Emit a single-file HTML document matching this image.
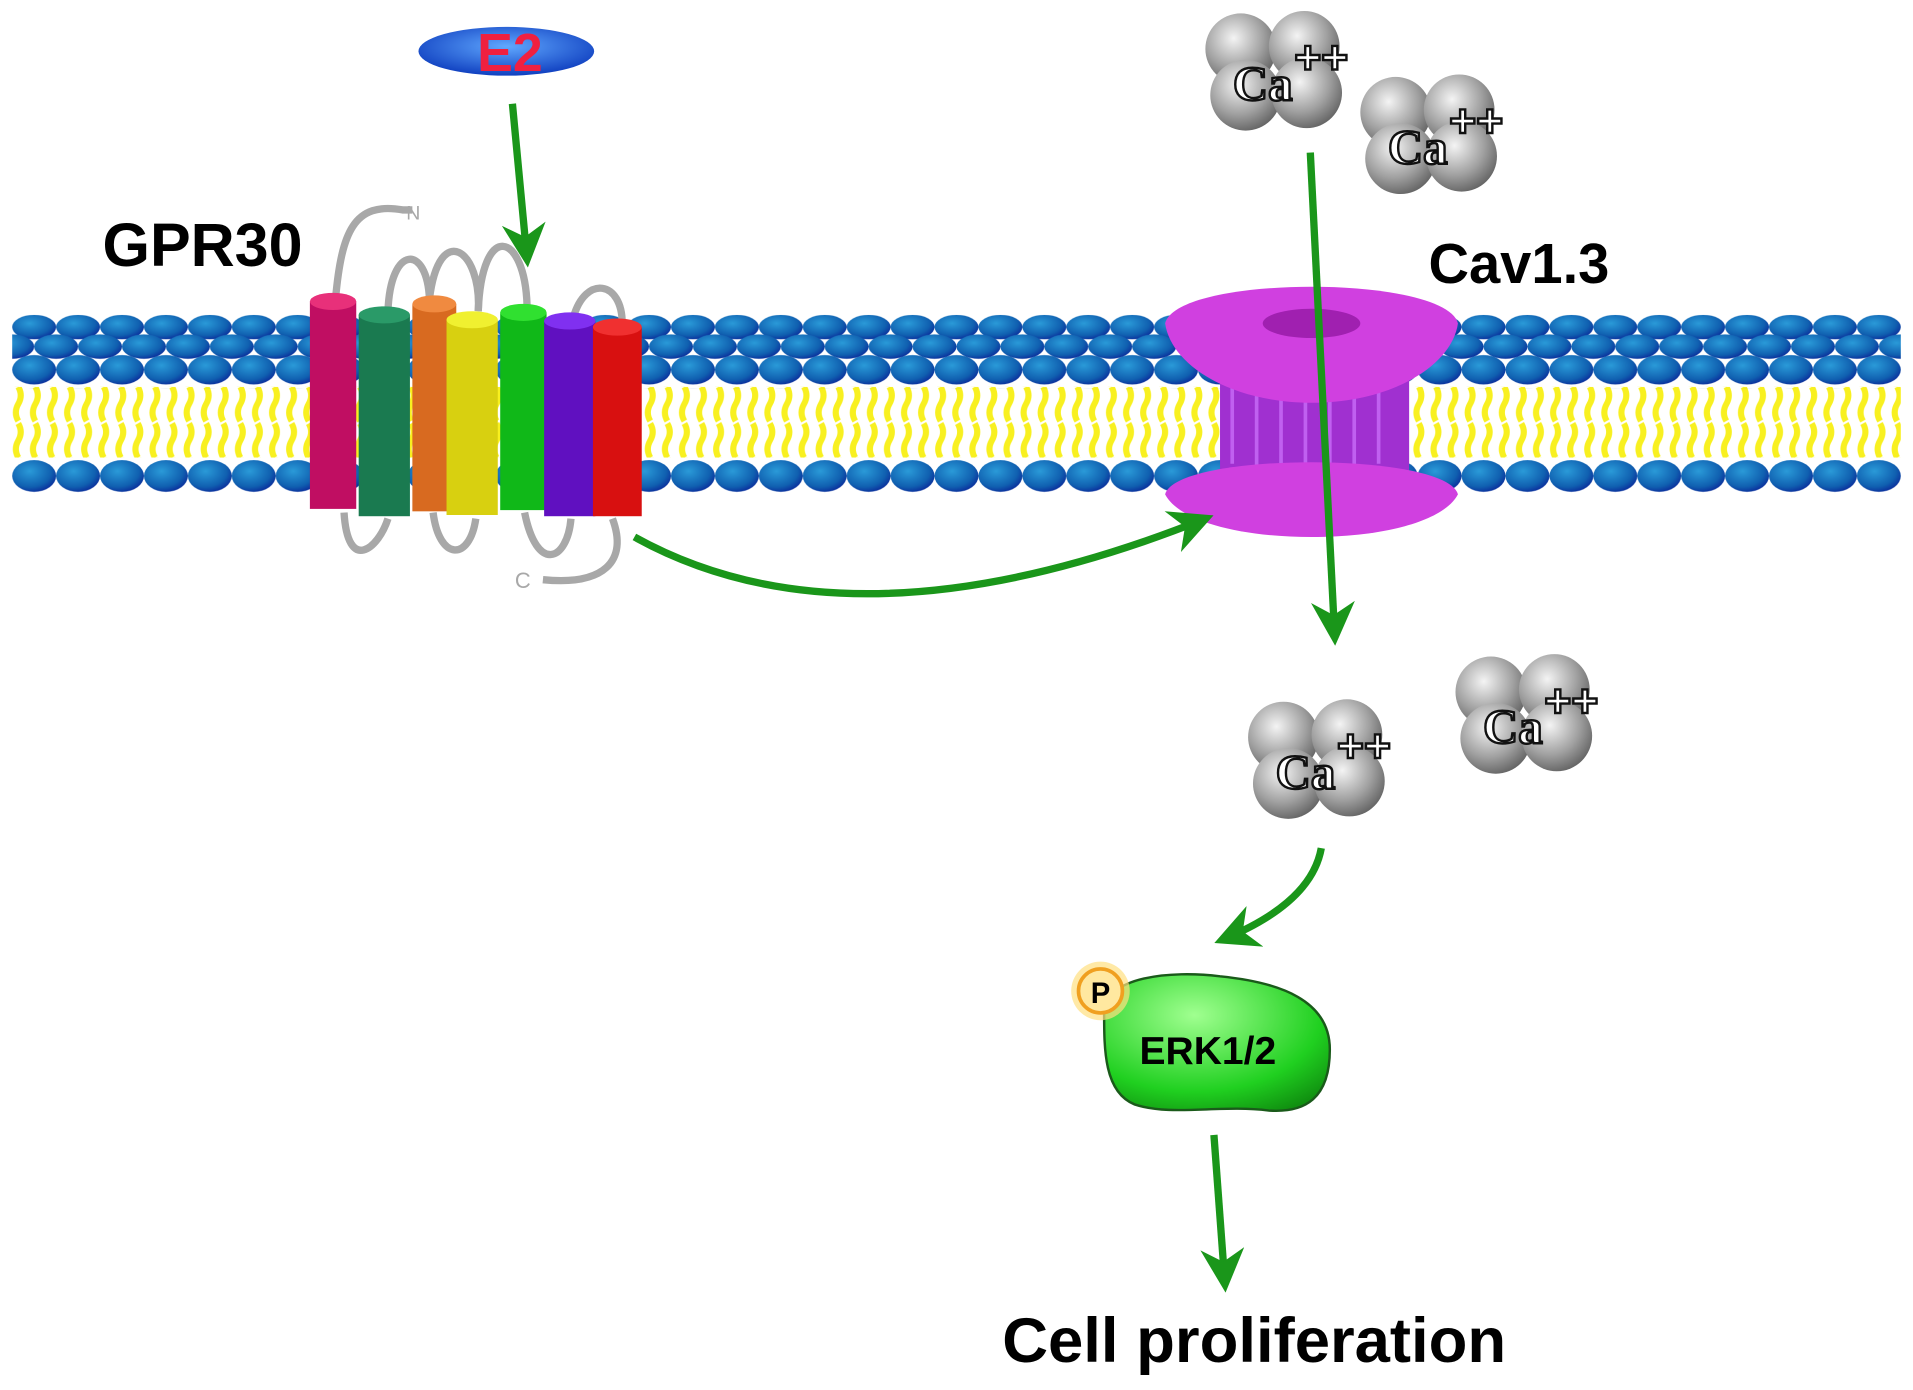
<!DOCTYPE html>
<html><head><style>html,body{margin:0;padding:0;background:#fff}svg{display:block}</style></head>
<body>
<svg width="1913" height="1390" viewBox="0 0 1568 1139" preserveAspectRatio="none" xmlns="http://www.w3.org/2000/svg" font-family="Liberation Sans, Arial, sans-serif">
<defs>
<radialGradient id="hd" cx="0.4" cy="0.35" r="0.7"><stop offset="0" stop-color="#2a9ad8"/><stop offset="0.7" stop-color="#1060b0"/><stop offset="1" stop-color="#0a2a9a"/></radialGradient>
<radialGradient id="gr" cx="0.4" cy="0.35" r="0.7"><stop offset="0" stop-color="#f4f4f4"/><stop offset="0.6" stop-color="#a0a0a0"/><stop offset="1" stop-color="#606060"/></radialGradient>
<radialGradient id="gn" cx="0.4" cy="0.3" r="0.8"><stop offset="0" stop-color="#a0ff90"/><stop offset="0.7" stop-color="#20d020"/><stop offset="1" stop-color="#109010"/></radialGradient>
<radialGradient id="e2" cx="0.5" cy="0.4" r="0.6"><stop offset="0" stop-color="#60a8ff"/><stop offset="1" stop-color="#1040c0"/></radialGradient>
<pattern id="top" x="10" y="258" width="36" height="60" patternUnits="userSpaceOnUse">
<ellipse cx="18" cy="10" rx="18" ry="10" fill="url(#hd)"/><ellipse cx="0" cy="26" rx="18" ry="10" fill="url(#hd)"/><ellipse cx="36" cy="26" rx="18" ry="10" fill="url(#hd)"/><ellipse cx="18" cy="45" rx="18" ry="12" fill="url(#hd)"/>
</pattern>
<pattern id="bot" x="10" y="375" width="36" height="32" patternUnits="userSpaceOnUse">
<ellipse cx="18" cy="15" rx="18" ry="13" fill="url(#hd)"/>
</pattern>
<pattern id="tail" x="10" y="317" width="14" height="58" patternUnits="userSpaceOnUse">
<path d="M5 0 q4 7 0 14 q-4 7 0 14 M5 30 q4 7 0 14 q-4 7 0 14" stroke="#f8f020" stroke-width="5" fill="none"/>
</pattern>
<marker id="ah" viewBox="0 0 10 10" refX="8" refY="5" markerWidth="6" markerHeight="6" orient="auto"><path d="M0 0 L10 5 L0 10 L3 5z" fill="#1a961a"/></marker>
<g id="ca">
<circle cx="-28" cy="-18" r="29" fill="url(#gr)"/><circle cx="24" cy="-20" r="29" fill="url(#gr)"/><circle cx="-24" cy="20" r="29" fill="url(#gr)"/><circle cx="26" cy="18" r="29" fill="url(#gr)"/>
<text x="-10" y="24" font-size="40" text-anchor="middle" font-weight="bold" font-family="Liberation Serif, serif" fill="#fff" stroke="#111" stroke-width="2">Ca</text>
<text x="38" y="2" font-size="38" text-anchor="middle" font-weight="bold" fill="#fff" stroke="#111" stroke-width="2">++</text>
</g>
</defs>
<rect width="1568" height="1139" fill="#fff"/>
<rect x="10" y="317" width="1548" height="58" fill="url(#tail)"/>
<rect x="10" y="258" width="1548" height="60" fill="url(#top)"/>
<rect x="10" y="375" width="1548" height="32" fill="url(#bot)"/>
<g stroke="#a8a8a8" stroke-width="6" fill="none">
<path d="M275 245 C280 190 290 165 330 172 L338 172"/>
<path d="M318 255 C320 200 350 200 352 245"/>
<path d="M352 245 C360 180 395 205 392 255"/>
<path d="M392 255 C395 180 430 190 432 250"/>
<path d="M470 260 C480 225 510 230 510 265"/>
<path d="M282 420 C285 470 310 450 318 425"/>
<path d="M355 420 C360 460 385 460 390 425"/>
<path d="M430 420 C440 470 465 460 468 425"/>
<path d="M502 425 C515 460 495 480 445 475"/>
</g>
<text x="333" y="180" font-size="16" fill="#a8a8a8">N</text>
<text x="422" y="482" font-size="18" fill="#a8a8a8">C</text>
<g>
<rect x="254" y="247" width="38" height="170" fill="#c00e62"/><ellipse cx="273" cy="247" rx="19" ry="7" fill="#e8307a"/>
<rect x="294" y="258" width="42" height="165" fill="#1a7a50"/><ellipse cx="315" cy="258" rx="21" ry="7" fill="#2a9a68"/>
<rect x="338" y="249" width="36" height="170" fill="#d86a20"/><ellipse cx="356" cy="249" rx="18" ry="7" fill="#f08a40"/>
<rect x="366" y="262" width="42" height="160" fill="#d8d010"/><ellipse cx="387" cy="262" rx="21" ry="7" fill="#f0f030"/>
<rect x="410" y="256" width="38" height="162" fill="#10b818"/><ellipse cx="429" cy="256" rx="19" ry="7" fill="#30e030"/>
<rect x="446" y="263" width="42" height="160" fill="#6010c0"/><ellipse cx="467" cy="263" rx="21" ry="7" fill="#8030f0"/>
<rect x="486" y="268" width="40" height="155" fill="#d81010"/><ellipse cx="506" cy="268" rx="20" ry="7" fill="#f03030"/>
</g>
<text x="166" y="218" font-size="50" font-weight="bold" text-anchor="middle">GPR30</text>
<ellipse cx="415" cy="42" rx="72" ry="20" fill="url(#e2)"/>
<text x="418" y="58" font-size="44" font-weight="bold" fill="#f02040" text-anchor="middle">E2</text>
<g fill="#d040e0">
<rect x="1000" y="300" width="155" height="90" fill="#a030d0"/>
<g stroke="#c060f0" stroke-width="3"><line x1="1010" y1="310" x2="1010" y2="380"/><line x1="1030" y1="310" x2="1030" y2="385"/><line x1="1050" y1="310" x2="1050" y2="390"/><line x1="1070" y1="310" x2="1070" y2="390"/><line x1="1090" y1="310" x2="1090" y2="390"/><line x1="1110" y1="310" x2="1110" y2="385"/><line x1="1130" y1="310" x2="1130" y2="380"/></g>
<path d="M955 265 C965 225 1185 225 1195 265 C1190 300 1140 330 1075 330 C1010 330 960 300 955 265z"/>
<ellipse cx="1075" cy="265" rx="40" ry="12" fill="#a020b0"/>
<path d="M955 405 C965 370 1185 370 1195 405 C1185 425 1140 440 1075 440 C1010 440 965 425 955 405z"/>
</g>
<text x="1245" y="232" font-size="46" font-weight="bold" text-anchor="middle">Cav1.3</text>
<use href="#ca" transform="translate(1045,58)"/>
<use href="#ca" transform="translate(1172,110)"/>
<use href="#ca" transform="translate(1080,622)"/>
<use href="#ca" transform="translate(1250,585)"/>
<g stroke="#1a961a" stroke-width="6" fill="none" marker-end="url(#ah)">
<line x1="420" y1="85" x2="432" y2="212"/>
<path d="M520 440 Q700 540 988 425"/>
<line x1="1074" y1="125" x2="1094" y2="522"/>
<path d="M1083 695 Q1075 740 1002 770"/>
<line x1="995" y1="930" x2="1004" y2="1052"/>
</g>
<path d="M905 830 C905 800 960 795 1000 800 C1050 805 1090 820 1090 860 C1090 900 1070 912 1040 910 C1000 905 960 915 930 905 C905 895 905 860 905 830z" fill="url(#gn)" stroke="#1a5a1a" stroke-width="2"/>
<text x="990" y="872" font-size="32" font-weight="bold" text-anchor="middle">ERK1/2</text>
<circle cx="902" cy="812" r="24" fill="#ffe080" opacity="0.7"/>
<circle cx="902" cy="812" r="18" fill="#ffe8a0" stroke="#f0a020" stroke-width="3"/>
<text x="902" y="822" font-size="24" font-weight="bold" text-anchor="middle">P</text>
<text x="1028" y="1116" font-size="52" font-weight="bold" text-anchor="middle">Cell proliferation</text>
</svg>
</body></html>
